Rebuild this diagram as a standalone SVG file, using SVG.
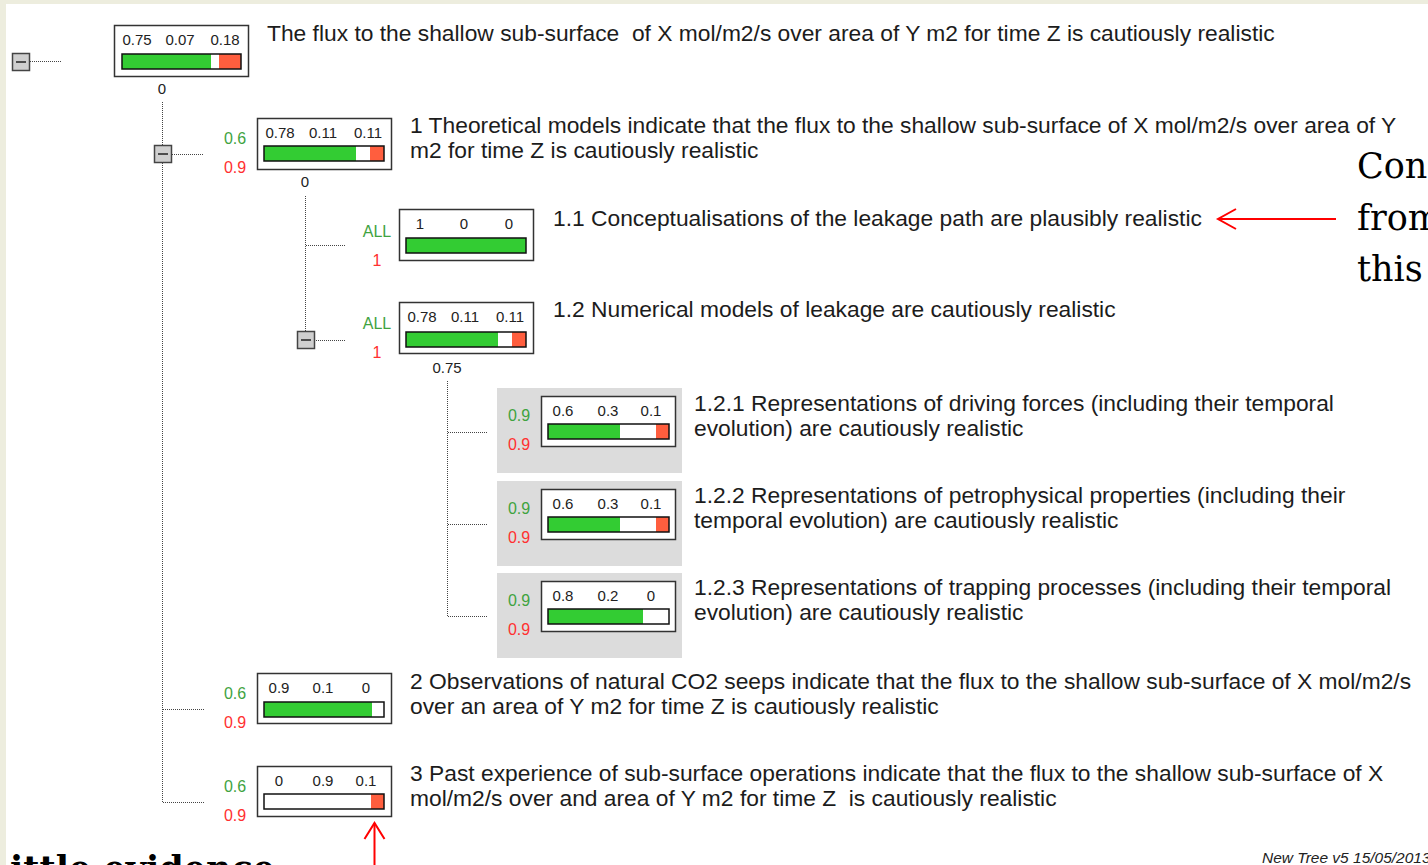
<svg xmlns="http://www.w3.org/2000/svg" width="1428" height="865" viewBox="0 0 1428 865">
<defs>
<style>
.t{font-family:"Liberation Sans",Arial,sans-serif;font-size:22.8px;fill:#1c1c1c}
.v{font-family:"Liberation Sans",Arial,sans-serif;font-size:15px;fill:#222;text-anchor:middle}
.g{font-family:"Liberation Sans",Arial,sans-serif;font-size:16px;fill:#3fa33f;text-anchor:middle}
.r{font-family:"Liberation Sans",Arial,sans-serif;font-size:16px;fill:#ff3030;text-anchor:middle}
.box{fill:#fff;stroke:#333;stroke-width:1.5}
.bar{fill:none;stroke:#111;stroke-width:1.5}
.gr{fill:#33cc33}
.rd{fill:#ff5e3e}
.dot{fill:none;stroke:#444;stroke-width:1;stroke-dasharray:1 1}
.btn{fill:#cfcfcf;stroke:#444;stroke-width:1.5}
.panel{fill:#dcdcdc}
.big{font-family:"DejaVu Serif","Liberation Serif",serif;font-size:35px;fill:#000}
.arr{fill:none;stroke:#ff0000;stroke-width:2}
</style>
</defs>
<rect x="0" y="0" width="1428" height="865" fill="#ededde"/>
<rect x="6" y="4" width="1422" height="861" fill="#fff"/>

<g id="connectors">
<line class="dot" x1="30" y1="61.5" x2="62" y2="61.5"/>
<line class="dot" x1="162.5" y1="102" x2="162.5" y2="145"/>
<line class="dot" x1="162.5" y1="163" x2="162.5" y2="802"/>
<line class="dot" x1="172" y1="154.5" x2="204" y2="154.5"/>
<line class="dot" x1="163" y1="709.5" x2="204" y2="709.5"/>
<line class="dot" x1="163" y1="802.5" x2="204" y2="802.5"/>
<line class="dot" x1="305.5" y1="196" x2="305.5" y2="331"/>
<line class="dot" x1="306" y1="245.5" x2="346" y2="245.5"/>
<line class="dot" x1="314" y1="340.5" x2="346" y2="340.5"/>
<line class="dot" x1="447.5" y1="381" x2="447.5" y2="616"/>
<line class="dot" x1="448" y1="432.5" x2="488" y2="432.5"/>
<line class="dot" x1="448" y1="524.5" x2="488" y2="524.5"/>
<line class="dot" x1="448" y1="616.5" x2="488" y2="616.5"/>
</g>

<g id="btn-root"><rect class="btn" x="12.5" y="53.5" width="17" height="17"/><line x1="16" y1="62" x2="26" y2="62" stroke="#222" stroke-width="1.5"/></g>
<g id="btn-1"><rect class="btn" x="154.5" y="145.5" width="17" height="17"/><line x1="158" y1="154" x2="168" y2="154" stroke="#222" stroke-width="1.5"/></g>
<g id="btn-12"><rect class="btn" x="297.5" y="331.5" width="17" height="17"/><line x1="301" y1="340" x2="311" y2="340" stroke="#222" stroke-width="1.5"/></g>

<g id="node-root">
<rect class="box" x="114.5" y="25.5" width="134" height="51"/>
<text class="v" x="137" y="45">0.75</text><text class="v" x="180" y="45">0.07</text><text class="v" x="225" y="45">0.18</text>
<rect class="gr" x="122" y="54" width="89" height="15"/><rect class="rd" x="219" y="54" width="22" height="15"/>
<rect class="bar" x="122" y="54" width="119" height="15"/>
<text class="v" x="162" y="94">0</text>
<text class="t" x="267" y="41">The flux to the shallow sub-surface&#160; of X mol/m2/s over area of Y m2 for time Z is cautiously realistic</text>
</g>

<g id="node-1">
<rect class="box" x="257.5" y="118.5" width="134" height="51"/>
<text class="v" x="280" y="138">0.78</text><text class="v" x="323" y="138">0.11</text><text class="v" x="368" y="138">0.11</text>
<rect class="gr" x="264" y="146" width="92" height="15"/><rect class="rd" x="370" y="146" width="14" height="15"/>
<rect class="bar" x="264" y="146" width="120" height="15"/>
<text class="g" x="235" y="144">0.6</text><text class="r" x="235" y="173">0.9</text>
<text class="v" x="305" y="187">0</text>
<text class="t" x="410" y="133">1 Theoretical models indicate that the flux to the shallow sub-surface of X mol/m2/s over area of Y</text>
<text class="t" x="410" y="158">m2 for time Z is cautiously realistic</text>
</g>

<g id="node-1-1">
<rect class="box" x="399.5" y="209.5" width="134" height="51"/>
<text class="v" x="420" y="229">1</text><text class="v" x="464" y="229">0</text><text class="v" x="509" y="229">0</text>
<rect class="gr" x="406" y="238" width="120" height="15"/>
<rect class="bar" x="406" y="238" width="120" height="15"/>
<text class="g" x="377" y="237">ALL</text><text class="r" x="377" y="266">1</text>
<text class="t" x="553" y="226">1.1 Conceptualisations of the leakage path are plausibly realistic</text>
</g>

<g id="node-1-2">
<rect class="box" x="399.5" y="302.5" width="134" height="51"/>
<text class="v" x="422" y="322">0.78</text><text class="v" x="465" y="322">0.11</text><text class="v" x="510" y="322">0.11</text>
<rect class="gr" x="406" y="332" width="92" height="15"/><rect class="rd" x="512" y="332" width="14" height="15"/>
<rect class="bar" x="406" y="332" width="120" height="15"/>
<text class="g" x="377" y="329">ALL</text><text class="r" x="377" y="358">1</text>
<text class="v" x="447" y="373">0.75</text>
<text class="t" x="553" y="317">1.2 Numerical models of leakage are cautiously realistic</text>
</g>

<g id="node-1-2-1">
<rect class="panel" x="497" y="388" width="185" height="85"/>
<rect class="box" x="541.5" y="396.5" width="134" height="50"/>
<text class="v" x="563" y="416">0.6</text><text class="v" x="608" y="416">0.3</text><text class="v" x="651" y="416">0.1</text>
<rect class="gr" x="548" y="424" width="72" height="15"/><rect class="rd" x="656" y="424" width="13" height="15"/>
<rect class="bar" x="548" y="424" width="121" height="15"/>
<text class="g" x="519" y="421">0.9</text><text class="r" x="519" y="450">0.9</text>
<text class="t" x="694" y="411">1.2.1 Representations of driving forces (including their temporal</text>
<text class="t" x="694" y="436">evolution) are cautiously realistic</text>
</g>

<g id="node-1-2-2">
<rect class="panel" x="497" y="481" width="185" height="85"/>
<rect class="box" x="541.5" y="489.5" width="134" height="50"/>
<text class="v" x="563" y="509">0.6</text><text class="v" x="608" y="509">0.3</text><text class="v" x="651" y="509">0.1</text>
<rect class="gr" x="548" y="517" width="72" height="15"/><rect class="rd" x="656" y="517" width="13" height="15"/>
<rect class="bar" x="548" y="517" width="121" height="15"/>
<text class="g" x="519" y="514">0.9</text><text class="r" x="519" y="543">0.9</text>
<text class="t" x="694" y="503">1.2.2 Representations of petrophysical properties (including their</text>
<text class="t" x="694" y="528">temporal evolution) are cautiously realistic</text>
</g>

<g id="node-1-2-3">
<rect class="panel" x="497" y="573" width="185" height="85"/>
<rect class="box" x="541.5" y="581.5" width="134" height="50"/>
<text class="v" x="563" y="601">0.8</text><text class="v" x="608" y="601">0.2</text><text class="v" x="651" y="601">0</text>
<rect class="gr" x="548" y="609" width="95" height="15"/>
<rect class="bar" x="548" y="609" width="121" height="15"/>
<text class="g" x="519" y="606">0.9</text><text class="r" x="519" y="635">0.9</text>
<text class="t" x="694" y="595">1.2.3 Representations of trapping processes (including their temporal</text>
<text class="t" x="694" y="620">evolution) are cautiously realistic</text>
</g>

<g id="node-2">
<rect class="box" x="257.5" y="673.5" width="134" height="50"/>
<text class="v" x="279" y="693">0.9</text><text class="v" x="323" y="693">0.1</text><text class="v" x="366" y="693">0</text>
<rect class="gr" x="264" y="702" width="108" height="15"/>
<rect class="bar" x="264" y="702" width="120" height="15"/>
<text class="g" x="235" y="699">0.6</text><text class="r" x="235" y="728">0.9</text>
<text class="t" x="410" y="689">2 Observations of natural CO2 seeps indicate that the flux to the shallow sub-surface of X mol/m2/s</text>
<text class="t" x="410" y="714">over an area of Y m2 for time Z is cautiously realistic</text>
</g>

<g id="node-3">
<rect class="box" x="257.5" y="766.5" width="134" height="50"/>
<text class="v" x="279" y="786">0</text><text class="v" x="323" y="786">0.9</text><text class="v" x="366" y="786">0.1</text>
<rect class="rd" x="371" y="794" width="13" height="15"/>
<rect class="bar" x="264" y="794" width="120" height="15"/>
<text class="g" x="235" y="792">0.6</text><text class="r" x="235" y="821">0.9</text>
<text class="t" x="410" y="781">3 Past experience of sub-surface operations indicate that the flux to the shallow sub-surface of X</text>
<text class="t" x="410" y="806">mol/m2/s over and area of Y m2 for time Z&#160; is cautiously realistic</text>
</g>

<g id="annotations">
<line class="arr" x1="1336" y1="219" x2="1218" y2="219"/>
<polyline class="arr" points="1236,209 1218,219 1236,229"/>
<line class="arr" x1="374.5" y1="865" x2="374.5" y2="823"/>
<polyline class="arr" points="364.5,839 374.5,823 384.5,839"/>
<text class="big" x="1357" y="178">Con</text>
<text class="big" x="1357" y="230">from</text>
<text class="big" x="1357" y="281">this</text>
<text class="big" x="10" y="881" font-size="37" font-weight="bold">ittle evidence</text>
<text x="1262" y="863" font-family="Liberation Sans, Arial, sans-serif" font-size="15.5" font-style="italic" fill="#222">New Tree v5 15/05/2013</text>
</g>
</svg>
